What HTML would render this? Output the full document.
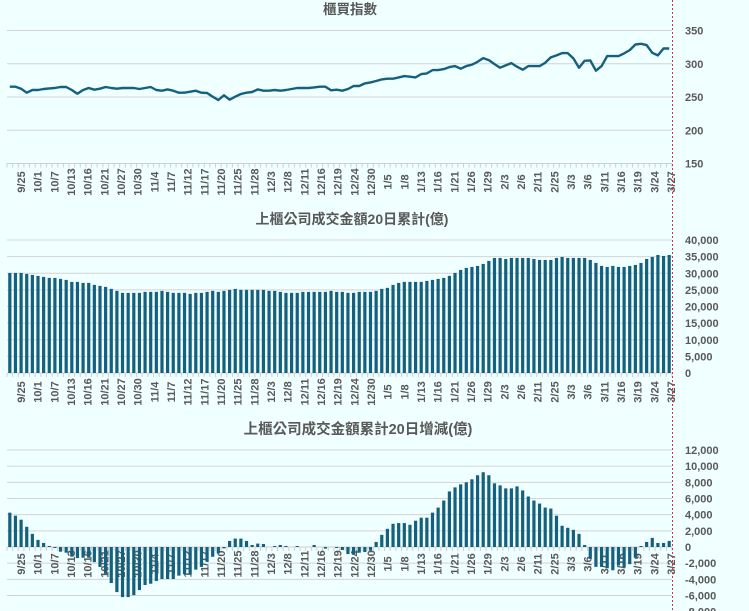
<!DOCTYPE html>
<html><head><meta charset="utf-8">
<style>
html,body{margin:0;padding:0;background:#f0ffff;}
svg{display:block;font-family:"Liberation Sans","Noto Sans CJK TC",sans-serif;}
</style></head>
<body>
<svg id="chart" width="749" height="611" viewBox="0 0 749 611" xmlns="http://www.w3.org/2000/svg">
<rect width="749" height="611" fill="#f0ffff"/>
</svg>
<script>
const dateLabels = ["9/25","10/1","10/7","10/13","10/16","10/21","10/27","10/30","11/4","11/7","11/12","11/17","11/20","11/25","11/28","12/3","12/8","12/11","12/16","12/19","12/24","12/30","1/5","1/8","1/13","1/16","1/21","1/26","1/29","2/3","2/6","2/11","2/25","3/3","3/6","3/11","3/16","3/19","3/24","3/27"];
const indexY3 = [260,260,266,278,270,270,267,265,264,261,261,270,281,270,264,269,266,261,264,266,264,264,264,267,264,261,270,272,268,272,278,278,275,272,278,279,290,300,286,299,290,282,278,276,268,272,272,270,272,270,267,264,264,264,262,260,260,271,269,272,267,258,258,250,247,243,238,236,236,232,228,230,232,222,220,210,210,207,201,198,206,198,194,185,174,180,192,203,196,189,200,209,198,198,198,188,172,166,159,159,175,203,182,181,212,198,168,168,168,160,150,133,131,135,158,166,145,145];
const indexValues = indexY3.map(v => Math.round((350-(v-91)/2)*10)/10);
const turnover20 = [30100,30100,30100,29800,29500,29200,28900,28600,28600,28300,28000,27400,27400,27100,27100,26500,26200,25900,25300,24700,24100,24100,24100,24100,24400,24400,24400,24700,24400,24100,24100,24100,23800,24100,24100,24400,24700,24400,24700,25000,25300,25000,25000,25000,25000,25000,24700,24700,24400,24100,24100,24100,24400,24400,24400,24400,24400,24700,24400,24400,24100,24100,24400,24400,24400,24700,25300,25600,26500,27100,27400,27400,27400,27400,27700,28000,28300,28600,29200,30100,31000,31600,31900,32200,32800,33700,34600,34600,34300,34600,34600,34600,34600,34300,34000,34000,34000,34600,34900,34600,34600,34600,34600,34000,33100,32200,31900,32200,31900,31900,32200,32500,33100,34300,34900,35500,35200,35500];
const change20 = [4250,3875,3375,2500,1625,875,500,125,-125,-580,-700,-1200,-1375,-1330,-1330,-1875,-2460,-3300,-4460,-5580,-6200,-6200,-5960,-5330,-4700,-4540,-4200,-3960,-3960,-3960,-3540,-3375,-3375,-2800,-2460,-1830,-1210,-790,-170,750,1040,1040,750,250,420,375,0,125,250,125,0,125,0,0,250,0,-200,0,-125,-375,-875,-960,-700,-625,-460,625,1500,2250,2875,2960,2960,2750,3250,3625,3625,4250,4875,5750,6875,7375,7750,8000,8375,8875,9250,8875,7875,7625,7250,7250,7500,7000,6250,5750,5375,4875,4750,3875,2625,2375,2125,1625,250,-1460,-2460,-2460,-2625,-2875,-2290,-2540,-2125,-1290,125,625,1125,500,500,750];
const indexTicks = [150,200,250,300,350];
const turnoverTicks = [0,5000,10000,15000,20000,25000,30000,35000,40000];
const changeTicks = [-8000,-6000,-4000,-2000,0,2000,4000,6000,8000,10000,12000];

const NS = "http://www.w3.org/2000/svg";
const svg = document.getElementById('chart');
const N = indexValues.length;
const X0 = 7, X1 = 672;
const slot = (X1 - X0) / N;
function xAt(i){ return X0 + slot*(i+0.5); }
function labelX(k){ return 25 + k*(650/(dateLabels.length-1)); }
function mk(tag, attrs, parent){ const e=document.createElementNS(NS,tag); for(const k in attrs) e.setAttribute(k,attrs[k]); (parent||svg).appendChild(e); return e; }
function fmt(v){ return v.toLocaleString('en-US'); }
const GRAY="#595959", BLUE="#14607f", GRID="#d4d4d4";

function yScale(vmin, vmax, yAtMin, yAtMax){ return v => yAtMin + (v - vmin)/(vmax - vmin)*(yAtMax - yAtMin); }

function panel(name, title, titleX, titleY, titleSize, ticks, y, axisVal, labelCenterY){
  const g = mk('g',{});
  
  
  const t = mk('text',{x:titleX,y:titleY,'text-anchor':'middle','font-size':titleSize,'font-weight':'bold',fill:GRAY},g);
  t.textContent = title;
  
  
  ticks.forEach(v=>{
    const yy = y(v);
    const l = mk('line',{x1:X0,x2:X1,y1:yy,y2:yy,stroke:GRID,'stroke-width':1},g);
    
    
    const tx = mk('text',{x:685,y:yy+4,'font-size':11,'font-weight':'bold',fill:GRAY},g);
    tx.textContent = fmt(v);
    
    
  });
  const ay = y(axisVal);
  const ax = mk('line',{x1:X0,x2:X1,y1:ay,y2:ay,stroke:"#cfcfcf",'stroke-width':1},g);
  
  
  for(let i=0;i<=N;i++){
    const xx = X0 + slot*i;
    const tk = mk('line',{x1:xx,x2:xx,y1:ay,y2:ay+4,stroke:"#cfcfcf",'stroke-width':1},g);
    
    
  }
  dateLabels.forEach((d,k)=>{
    const xx = labelX(k);
    const tx = mk('text',{x:xx,y:labelCenterY,'text-anchor':'middle','font-size':11,'font-weight':'bold',fill:GRAY,transform:`rotate(-90 ${xx} ${labelCenterY})`},g);
    tx.textContent = d;
    
    
  });
  return g;
}

// Panel 1: index line
const y1 = yScale(150,350,163.5,30.5);
const g1 = panel('index-panel','櫃買指數',350,14,13.5,indexTicks,y1,150,182);
const pts = indexValues.map((v,i)=>`${xAt(i).toFixed(1)},${y1(v).toFixed(1)}`).join(' ');
const pl = mk('polyline',{points:pts,fill:'none',stroke:BLUE,'stroke-width':2.4,'stroke-linejoin':'round'},g1);



// Panel 2: turnover bars
const y2 = yScale(0,40000,373,240);
const g2 = panel('turnover-panel','上櫃公司成交金額20日累計(億)',352,224,14,turnoverTicks,y2,0,392);
turnover20.forEach((v,i)=>{
  const r = mk('rect',{x:xAt(i)-1.6,y:y2(v),width:3.2,height:y2(0)-y2(v),fill:BLUE},g2);
  
  
});

// Panel 3: change bars
const y3 = yScale(0,12000,547,450);
const g3 = panel('change-panel','上櫃公司成交金額累計20日增減(億)',358,434,14.5,changeTicks,y3,0,564);
change20.forEach((v,i)=>{
  const top = Math.min(y3(v),y3(0)), h = Math.abs(y3(v)-y3(0));
  const r = mk('rect',{x:xAt(i)-1.6,y:top,width:3.2,height:h,fill:BLUE},g3);
  
  
});

// red dotted marker
const rl = mk('line',{x1:672.5,x2:672.5,y1:0,y2:611,stroke:'#e0303a','stroke-width':1,'stroke-dasharray':'2,2'});


</script>
</body></html>
